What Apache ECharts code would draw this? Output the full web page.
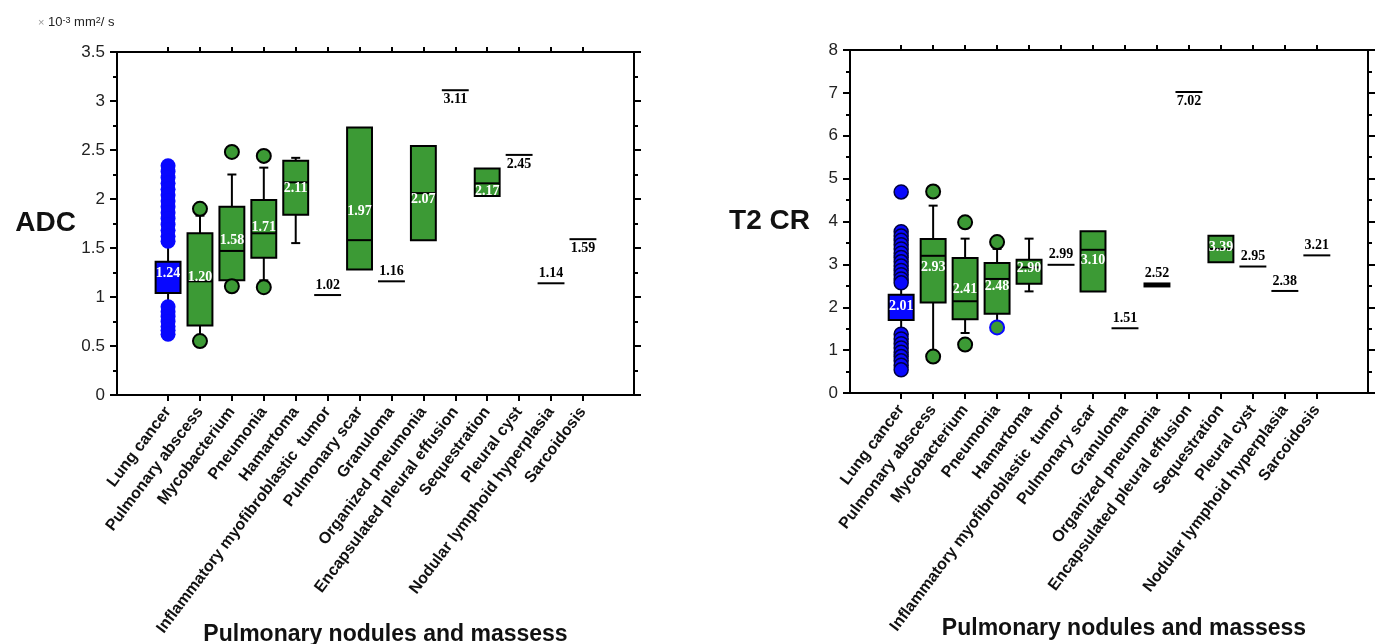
<!DOCTYPE html>
<html><head><meta charset="utf-8">
<script src="https://cdn.jsdelivr.net/npm/echarts@6/dist/echarts.min.js"></script>
<style>html,body{margin:0;padding:0;background:#fff}#c{width:1383px;height:644px}</style>
</head><body><div id="c"></div>
<script>
// ---------------- data ----------------
const categories = ['Lung cancer', 'Pulmonary abscess', 'Mycobacterium', 'Pneumonia', 'Hamartoma',
  'Inflammatory myofibroblastic  tumor', 'Pulmonary scar', 'Granuloma', 'Organized pneumonia',
  'Encapsulated pleural effusion', 'Sequestration', 'Pleural cyst', 'Nodular lymphoid hyperplasia', 'Sarcoidosis'];
const xAxisTitle = 'Pulmonary nodules and massess';

// ADC: [lower whisker, Q1, median, Q3, upper whisker] (null = single value)
const adcBoxes = [
  [0.93, 1.04, null, 1.36, 1.55],
  [0.60, 0.71, 1.16, 1.65, 1.83],
  [1.17, 1.17, 1.47, 1.92, 2.25],
  [1.17, 1.40, 1.65, 1.99, 2.32],
  [1.55, 1.84, 2.17, 2.39, 2.42],
  null,
  [1.28, 1.28, 1.58, 2.73, 2.73],
  null,
  [1.58, 1.58, 2.06, 2.54, 2.54],
  null,
  [2.03, 2.03, 2.16, 2.31, 2.31],
  null, null, null];
const adcValues = [1.24, 1.20, 1.58, 1.71, 2.11, 1.02, 1.97, 1.16, 2.07, 3.11, 2.17, 2.45, 1.14, 1.59];
const adcOutliers = [[1, 1.90], [1, 0.55], [2, 2.48], [2, 1.11], [3, 2.44], [3, 1.10]];
const adcLungDots = [2.34, 2.28, 2.22, 2.16, 2.10, 2.04, 1.98, 1.92, 1.86, 1.80, 1.74, 1.68, 1.62, 1.57,
  0.90, 0.85, 0.80, 0.75, 0.70, 0.66, 0.62];

// T2 CR
const t2Boxes = [
  [1.45, 1.70, null, 2.29, 2.52],
  [0.90, 2.11, 3.20, 3.59, 4.37],
  [1.40, 1.72, 2.14, 3.15, 3.60],
  [1.55, 1.85, 2.66, 3.03, 3.36],
  [2.37, 2.55, 2.93, 3.11, 3.60],
  null,
  [2.37, 2.37, 3.34, 3.77, 3.77],
  null, null, null,
  [3.05, 3.05, 3.36, 3.67, 3.67],
  null, null, null];
const t2Values = [2.01, 2.93, 2.41, 2.48, 2.90, 2.99, 3.10, 1.51, 2.52, 7.02, 3.39, 2.95, 2.38, 3.21];
const t2Outliers = [[1, 4.70], [1, 0.85], [2, 3.98], [2, 1.13], [3, 3.52]];
const t2RimOutliers = [[3, 1.53]];
const t2LungDots = [4.69, 3.76, 3.66, 3.56, 3.46, 3.36, 3.26, 3.16, 3.06, 2.96, 2.86, 2.76, 2.66, 2.57,
  1.37, 1.26, 1.15, 1.05, 0.95, 0.85, 0.75, 0.65, 0.54];

// ---------------- styling ----------------
const GREEN = '#3c9a35';
const BLUE = '#0808ff';
const BOX_W = 0.78;     // in category units
const CAP = 4.5;
const LABEL_FONT = 'bold 14px "Liberation Serif", "Times New Roman", serif';
const adcLabelStyle = { below: [9, 11, 13], shift: { 6: 9, 8: 7, 10: 9 }, thick: [] };
const t2LabelStyle = { below: [9], shift: {}, thick: [8] };

function renderer(boxes, values, st) {
  return function (params, api) {
    const i = params.dataIndex;
    const cx = api.coord([i, 0])[0];
    const w = api.size([BOX_W, 0])[0];
    const y = v => api.coord([i, v])[1];
    const kids = [];
    const ln = { stroke: '#000', lineWidth: 2 };
    const b = boxes[i];
    let ly, fill;
    if (b) {
      const [lo, q1, med, q3, hi] = b;
      if (hi > q3) {
        kids.push({ type: 'line', shape: { x1: cx, y1: y(q3), x2: cx, y2: y(hi) }, style: ln });
        kids.push({ type: 'line', shape: { x1: cx - CAP, y1: y(hi), x2: cx + CAP, y2: y(hi) }, style: ln });
      }
      if (lo < q1) {
        kids.push({ type: 'line', shape: { x1: cx, y1: y(q1), x2: cx, y2: y(lo) }, style: ln });
        kids.push({ type: 'line', shape: { x1: cx - CAP, y1: y(lo), x2: cx + CAP, y2: y(lo) }, style: ln });
      }
      kids.push({ type: 'rect', shape: { x: cx - w / 2, y: y(q3), width: w, height: y(q1) - y(q3) },
        style: { fill: i === 0 ? BLUE : GREEN, stroke: '#000', lineWidth: 2 } });
      if (med != null) {
        kids.push({ type: 'line', shape: { x1: cx - w / 2, y1: y(med), x2: cx + w / 2, y2: y(med) }, style: ln });
      }
      ly = y(values[i]) + (st.shift[i] || 0);
      fill = '#fff';
    } else {
      const yy = y(values[i]);
      const thick = st.thick.includes(i);
      kids.push({ type: 'line', shape: { x1: cx - w / 2 - 1, y1: yy, x2: cx + w / 2 + 1, y2: yy },
        style: { stroke: '#000', lineWidth: thick ? 5 : 2 } });
      ly = st.below.includes(i) ? yy + 9 : yy - (thick ? 12 : 10);
      fill = '#000';
    }
    kids.push({ type: 'text', z2: 10, style: { text: values[i].toFixed(2), x: cx, y: ly, fill: fill,
      font: LABEL_FONT, align: 'center', verticalAlign: 'middle' } });
    return { type: 'group', children: kids };
  };
}

const idx = categories.map((c, i) => i);
const axisLine = { show: true, onZero: false, lineStyle: { color: '#000', width: 2 } };

function xAxes(gridIndex, namePad, nameGap) {
  return [{
    type: 'value', gridIndex, position: 'bottom', min: -1.6, max: 14.6,
    splitLine: { show: false }, axisLine,
    axisTick: { show: true, customValues: idx, length: 6, lineStyle: { color: '#000', width: 2 } },
    axisLabel: { show: true, customValues: idx, formatter: v => categories[Math.round(v)] || '',
      rotate: 53, margin: 14, color: '#111', fontSize: 16, fontWeight: 'bold', fontFamily: 'Liberation Sans' },
    name: xAxisTitle, nameLocation: 'middle', nameGap, nameMoveOverlap: false,
    nameTextStyle: { fontSize: 23, fontWeight: 'bold', fontFamily: 'Liberation Sans', color: '#111', padding: [0, 0, 0, namePad] }
  }, {
    type: 'value', gridIndex, position: 'top', min: -1.6, max: 14.6,
    splitLine: { show: false }, axisLine,
    axisTick: { show: true, customValues: idx, length: 5, lineStyle: { color: '#000', width: 2 } },
    axisLabel: { show: false }
  }];
}
function yAxes(gridIndex, max, interval, name, nameGap) {
  const common = {
    type: 'value', gridIndex, min: 0, max, interval,
    splitLine: { show: false }, axisLine,
    axisTick: { show: true, length: 7, lineStyle: { color: '#000', width: 2 } },
    minorTick: { show: true, splitNumber: 2, length: 4, lineStyle: { color: '#000', width: 2 } },
    minorSplitLine: { show: false }
  };
  return [Object.assign({}, common, {
    position: 'left',
    axisLabel: { margin: 12, color: '#222', fontSize: 17, fontFamily: 'Liberation Sans' },
    name, nameLocation: 'middle', nameRotate: 0, nameGap, nameMoveOverlap: false,
    nameTextStyle: { fontSize: 28, fontWeight: 'bold', fontFamily: 'Liberation Sans', color: '#111' }
  }), Object.assign({}, common, { position: 'right', axisLabel: { show: false } })];
}

function dotSeries(xi, yi, data, style, size) {
  return { type: 'scatter', xAxisIndex: xi, yAxisIndex: yi, data, symbol: 'circle', symbolSize: size,
    itemStyle: Object.assign({ opacity: 1 }, style), z: 3, silent: true, animation: false };
}

const option = {
  animation: false,
  backgroundColor: '#fff',
  title: {
    text: '{x|\u00d7} 10{sup|-3} mm{sup|2}/ s', left: 33, top: 11,
    textStyle: { fontSize: 13, fontWeight: 'normal', color: '#222', fontFamily: 'Liberation Sans',
      rich: { x: { fontSize: 11, color: '#999', fontFamily: 'Liberation Sans' },
              sup: { fontSize: 9, color: '#222', verticalAlign: 'top', fontFamily: 'Liberation Sans' } } }
  },
  grid: [
    { left: 117, right: 1383 - 634, top: 52, bottom: 644 - 395, outerBoundsMode: 'none', containLabel: false },
    { left: 850, right: 1383 - 1368, top: 50, bottom: 644 - 393, outerBoundsMode: 'none', containLabel: false }
  ],
  xAxis: [...xAxes(0, 20, 228), ...xAxes(1, 30, 224)],
  yAxis: [...yAxes(0, 3.5, 0.5, 'ADC', 41), ...yAxes(1, 8, 1, 'T2 CR', 40)],
  series: [
    { type: 'custom', xAxisIndex: 0, yAxisIndex: 0, clip: false, silent: true, z: 2,
      data: idx.map(i => [i, adcValues[i]]), encode: { x: 0, y: 1 },
      renderItem: renderer(adcBoxes, adcValues, adcLabelStyle) },
    { type: 'custom', xAxisIndex: 2, yAxisIndex: 2, clip: false, silent: true, z: 2,
      data: idx.map(i => [i, t2Values[i]]), encode: { x: 0, y: 1 },
      renderItem: renderer(t2Boxes, t2Values, t2LabelStyle) },
    dotSeries(0, 0, adcOutliers, { color: GREEN, borderColor: '#000', borderWidth: 2 }, 14),
    dotSeries(0, 0, adcLungDots.map(v => [0, v]), { color: BLUE, borderColor: BLUE, borderWidth: 0 }, 15),
    dotSeries(2, 2, t2Outliers, { color: GREEN, borderColor: '#000', borderWidth: 2 }, 14),
    dotSeries(2, 2, t2RimOutliers, { color: GREEN, borderColor: BLUE, borderWidth: 2 }, 14),
    dotSeries(2, 2, t2LungDots.map(v => [0, v]), { color: BLUE, borderColor: '#000040', borderWidth: 1.5 }, 14)
  ]
};
const chart = echarts.init(document.getElementById('c'), null, { renderer: 'canvas' });
chart.setOption(option);
</script></body></html>
